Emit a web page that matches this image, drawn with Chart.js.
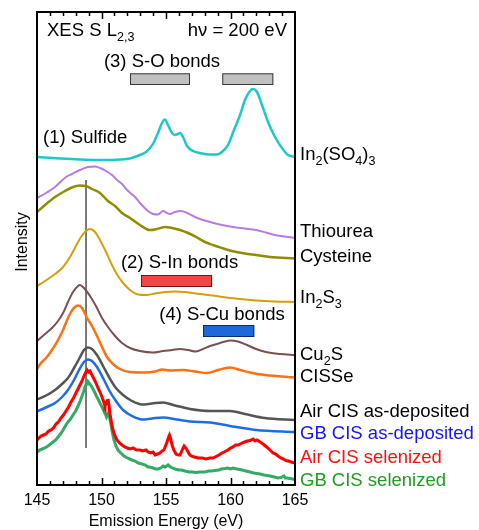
<!DOCTYPE html>
<html>
<head>
<meta charset="utf-8">
<script src="https://cdn.jsdelivr.net/npm/chart.js@4.4.1/dist/chart.umd.min.js"></script>
<style>
  html, body { margin: 0; padding: 0; background: #fff; }
</style>
</head>
<body>
<canvas id="xesChart" width="479" height="530"></canvas>
<script>
// S L2,3 emission spectra, stacked with offsets (energy in eV, intensity in arb. units)
const sulfateE = [145, 146.78, 148.33, 149.88, 151.43, 152.2, 152.98, 153.45, 153.76, 154.07, 154.38, 154.69, 154.92, 155.15, 155.47, 155.7, 156.09, 156.32, 156.63, 157.09, 157.64, 158.41, 158.95, 159.42, 159.81, 160.27, 160.74, 161.12, 161.51, 161.74, 162.05, 162.44, 162.91, 163.45, 163.99, 164.46, 165];
const sulfateI = [328, 326.5, 325.5, 325, 325.5, 326.5, 330, 333, 337, 343, 352, 362, 365.5, 360, 352, 350, 352, 348, 339, 334, 332, 330.5, 330.5, 334, 340, 355, 370, 385, 394, 396, 393, 380, 363, 348, 337, 330, 328];

const thioureaE = [145, 145.7, 146.4, 147.25, 147.71, 148.33, 148.95, 149.5, 149.88, 150.35, 150.81, 151.2, 151.59, 151.98, 152.6, 152.98, 153.6, 153.99, 154.38, 154.77, 155.08, 155.31, 155.7, 156.16, 156.63, 157.09, 157.64, 158.41, 159.34, 160.19, 161.12, 161.98, 162.75, 163.45, 165];
const thioureaI = [287, 292, 298, 308, 311, 315, 318, 318.5, 317, 314, 310, 305, 301, 295, 288, 282, 274, 271, 270.5, 274, 272, 271, 273, 274, 272, 269, 266, 263, 260, 258, 256.5, 255, 252.5, 250, 247];

const cysteineE = [145, 145.62, 146.4, 147.17, 147.79, 148.33, 148.8, 149.26, 149.88, 150.5, 151.05, 151.59, 152.21, 152.98, 153.76, 154.3, 154.92, 155.47, 156.09, 156.71, 157.33, 158.02, 158.64, 159.34, 159.96, 161.12, 161.98, 163.06, 165];
const cysteineI = [273, 280, 288, 294, 298, 299.5, 299, 296, 292, 284, 279, 272, 267, 260, 255, 256, 258, 257, 255, 252, 248, 243, 240, 237, 234.5, 231.5, 230, 228, 226.5];

const in2s3E = [145, 145.62, 146.4, 147.02, 147.56, 148.02, 148.41, 148.8, 149.11, 149.5, 149.88, 150.35, 150.81, 151.28, 151.74, 152.21, 152.83, 153.45, 154.15, 154.92, 155.7, 156.47, 157.64, 158.64, 159.96, 161.98, 163.45, 165];
const in2s3I = [199, 204, 211, 218, 228, 239, 248, 254, 256, 253, 245, 233, 220, 209, 201, 195, 190.5, 190, 191.5, 193, 193.5, 193, 191, 189.5, 187, 184.5, 183.5, 183];

const cu2sE = [145, 145.62, 146.16, 146.63, 147.02, 147.4, 147.79, 148.18, 148.33, 148.64, 149.11, 149.57, 150.04, 150.5, 151.05, 151.59, 152.21, 152.98, 153.99, 154.77, 155.47, 156.09, 156.71, 157.33, 157.87, 158.41, 159.19, 159.96, 160.58, 161.28, 161.98, 162.75, 163.84, 165];
const cu2sI = [144, 151, 157, 164, 172, 183, 193, 199, 200, 197, 189, 179, 167, 158, 149, 142, 137, 134, 132.5, 134, 135, 136, 135, 133.5, 136, 139, 142, 144.5, 143.5, 140, 136, 133, 131, 130];

const cisseE = [145, 145.31, 145.7, 146.16, 146.63, 147.02, 147.4, 147.79, 148.18, 148.49, 148.88, 149.26, 149.65, 150.04, 150.43, 150.89, 151.43, 152.21, 153.37, 154.15, 154.69, 155.31, 156.32, 157.25, 158.18, 159.03, 159.96, 160.74, 161.51, 162.67, 165];
const cisseI = [116, 122, 127, 135, 145, 155, 167, 176, 179.5, 177, 167, 159, 149, 138, 128, 121, 116, 113, 112.5, 113.5, 115.5, 114.5, 115, 113.5, 112, 115, 117.5, 115, 112.5, 110, 107.5];

const airDepE = [145, 145.78, 146.4, 146.94, 147.4, 147.87, 148.26, 148.64, 148.95, 149.26, 149.65, 150.12, 150.58, 151.12, 151.67, 152.36, 153.14, 153.91, 154.77, 155.7, 156.86, 158.41, 159.96, 161.12, 162.67, 165];
const airDepI = [85.5, 90, 95, 101, 107, 117, 126, 135, 137.5, 136, 130, 119, 108, 97, 90, 84, 80.5, 81.5, 82.5, 79.5, 76, 74, 74, 71, 67, 65];

const gbDepE = [145, 145.78, 146.4, 146.94, 147.4, 147.87, 148.26, 148.64, 148.95, 149.26, 149.65, 150.12, 150.58, 151.12, 151.67, 152.36, 153.14, 153.91, 154.77, 155.85, 156.86, 158.41, 159.96, 161.98, 165];
const gbDepI = [73.5, 78, 82, 88, 95, 105, 115, 123, 125.5, 124, 118, 107, 95, 84, 75, 69, 65.5, 66.5, 67.5, 65.5, 63.5, 62.5, 59, 55, 53];

const airSelE = [145, 145.15, 145.31, 145.5, 145.7, 145.9, 146.09, 146.28, 146.47, 146.66, 146.86, 147.05, 147.25, 147.45, 147.64, 147.83, 148.02, 148.18, 148.33, 148.49, 148.64, 148.76, 148.88, 149, 149.1, 149.26, 149.42, 149.57, 149.73, 149.88, 150.04, 150.12, 150.2, 150.27, 150.35, 150.43, 150.5, 150.58, 150.66, 150.78, 150.89, 151.05, 151.2, 151.4, 151.59, 151.8, 152, 152.21, 152.45, 152.7, 152.98, 153.2, 153.45, 153.6, 153.8, 154, 154.15, 154.35, 154.53, 154.7, 154.84, 154.96, 155.08, 155.2, 155.27, 155.35, 155.47, 155.6, 155.78, 155.95, 156.09, 156.25, 156.4, 156.52, 156.63, 156.8, 156.94, 157.2, 157.48, 157.8, 158.1, 158.4, 158.64, 158.8, 159.1, 159.34, 159.5, 159.8, 160, 160.19, 160.4, 160.6, 160.89, 161.1, 161.3, 161.51, 161.75, 161.9, 162.05, 162.3, 162.52, 162.8, 163.06, 163.3, 163.5, 163.68, 163.9, 164.1, 164.3, 164.5, 164.7, 165];
const airSelI = [45, 47, 49, 50, 51, 54, 55, 57, 61, 63, 67, 70, 74, 78, 83, 87, 92, 96, 100, 104, 109, 112, 115, 113, 114, 110, 106, 102, 97, 93, 88, 85, 82, 79, 81, 84, 86, 80, 71, 62, 55, 49, 45, 42, 40, 38, 37, 36, 37, 35, 35, 34, 35, 33, 32, 33, 30, 31, 32, 34, 35, 39, 43, 48, 50, 47, 40, 35, 31, 30, 30, 35, 39, 37, 35, 31, 29, 28, 27, 27, 26, 27, 27, 28, 30, 32, 33, 35, 37, 38, 40, 40, 42, 43, 44, 44.5, 46, 44, 45, 43, 41, 38, 35, 32, 31, 29, 27, 26, 24.5, 24, 23, 22];

const gbSelE = [145, 145.2, 145.39, 145.6, 145.85, 146.05, 146.24, 146.45, 146.63, 146.82, 147.02, 147.2, 147.4, 147.6, 147.79, 148, 148.18, 148.35, 148.49, 148.6, 148.72, 148.82, 148.88, 148.96, 149.03, 149.15, 149.26, 149.42, 149.57, 149.73, 149.88, 150.04, 150.19, 150.3, 150.39, 150.47, 150.54, 150.62, 150.74, 150.85, 150.97, 151.12, 151.28, 151.5, 151.74, 152, 152.36, 152.6, 152.85, 153.14, 153.4, 153.6, 153.76, 154, 154.2, 154.38, 154.6, 154.77, 154.95, 155.16, 155.35, 155.5, 155.7, 156, 156.2, 156.47, 156.8, 157.05, 157.33, 157.6, 158.02, 158.3, 158.55, 158.8, 159.1, 159.3, 159.57, 159.8, 160, 160.19, 160.5, 160.89, 161.2, 161.51, 161.8, 162.05, 162.29, 162.6, 162.85, 163.06, 163.4, 163.68, 163.9, 164.15, 164.25, 164.38, 164.6, 164.8, 165];
const gbSelI = [33, 35, 36, 37, 39, 41, 43, 45, 48, 51, 55, 59, 63, 66, 70, 74, 79, 84, 89, 93, 98, 101, 103, 101, 102, 100, 98, 94, 90, 86, 82, 78, 74, 71, 68, 70, 72, 68, 60, 52, 45, 39, 35, 32, 29, 27, 25, 24, 22, 21, 20, 18, 18, 17, 16, 16, 17, 19, 18, 20, 18, 17, 16, 15, 15, 14, 13, 13, 12.5, 13, 13, 14, 14, 14.5, 15, 16, 16.5, 17, 16, 17, 16, 15, 14, 13, 12, 11.5, 11, 10, 9.5, 9, 8, 7, 7.5, 9, 7, 7, 6.5, 6, 5.5];

// reference line through the main sulfide peak
const refE = [148.8, 148.8];
const refI = [37, 305];

// bond regions: energy range and intensity band of each bar
const soRanges = [[152.21, 156.86], [159.36, 163.32]];
const soBand = [400, 411.7];
const inRange = [153.06, 158.57];
const inBand = [198, 210];
const cuRange = [157.87, 161.84];
const cuBand = [148, 160];

const FONT = '"Liberation Sans", Arial, sans-serif';

const series = [
  { label: 'In_2(SO_4)_3', e: sulfateE, i: sulfateI, color: '#1ec8c8', width: 2.5, text: '#000', at: 330 },
  { label: 'Thiourea', e: thioureaE, i: thioureaI, color: '#b57de0', width: 2, text: '#000', at: 253 },
  { label: 'Cysteine', e: cysteineE, i: cysteineI, color: '#8e8e00', width: 2.5, text: '#000', at: 228 },
  { label: 'In_2S_3', e: in2s3E, i: in2s3I, color: '#d4a00a', width: 2, text: '#000', at: 187 },
  { label: 'Cu_2S', e: cu2sE, i: cu2sI, color: '#7a5050', width: 2, text: '#000', at: 130 },
  { label: 'CISSe', e: cisseE, i: cisseI, color: '#ff7010', width: 2.5, text: '#000', at: 108 },
  { label: 'Air CIS as-deposited', e: airDepE, i: airDepI, color: '#555555', width: 2.5, text: '#000', at: 73 },
  { label: 'GB CIS as-deposited', e: gbDepE, i: gbDepI, color: '#1e6ee1', width: 2.5, text: '#1414ff', at: 51 },
  { label: 'Air CIS selenized', e: airSelE, i: airSelI, color: '#ff0000', width: 3, text: '#ff1010', noisy: true, at: 27 },
  { label: 'GB CIS selenized', e: gbSelE, i: gbSelI, color: '#33aa66', width: 3, text: '#1e9e1e', noisy: true, at: 4 }
];

const datasets = series.map(s => ({
  label: s.label,
  data: s.e.map((x, k) => ({ x: x, y: s.i[k] })),
  borderColor: s.color,
  borderWidth: s.width,
  pointRadius: 0,
  fill: false,
  cubicInterpolationMode: s.noisy ? 'default' : 'monotone',
  tension: s.noisy ? 0 : 0.4
}));

datasets.push({
  label: 'ref',
  data: refE.map((x, k) => ({ x: x, y: refI[k] })),
  borderColor: '#222222',
  borderWidth: 1.2,
  pointRadius: 0
});

// split "In_2(SO_4)_3" or "L_{2,3}" into normal / subscript pieces
function parseSub(str) {
  const parts = [];
  const re = /_\{([^}]*)\}|_(.)/g;
  let last = 0, m;
  while ((m = re.exec(str)) !== null) {
    if (m.index > last) parts.push([str.slice(last, m.index), false]);
    parts.push([m[1] !== undefined ? m[1] : m[2], true]);
    last = re.lastIndex;
  }
  if (last < str.length) parts.push([str.slice(last), false]);
  return parts;
}

function richText(ctx, str, x, y, size, color, align) {
  const parts = parseSub(str);
  const subSize = size * 0.68;
  ctx.save();
  ctx.fillStyle = color;
  ctx.textBaseline = 'middle';
  ctx.textAlign = 'left';
  let w = 0;
  parts.forEach(([t, sub]) => {
    ctx.font = (sub ? subSize : size) + 'px ' + FONT;
    w += ctx.measureText(t).width;
  });
  let cx = align === 'right' ? x - w : align === 'center' ? x - w / 2 : x;
  parts.forEach(([t, sub]) => {
    ctx.font = (sub ? subSize : size) + 'px ' + FONT;
    ctx.fillText(t, cx, sub ? y + size * 0.33 : y);
    cx += ctx.measureText(t).width;
  });
  ctx.restore();
}

function band(chart, range, yr, fillC, lineC) {
  const { ctx, scales: { x, y } } = chart;
  const x0 = x.getPixelForValue(range[0]), x1 = x.getPixelForValue(range[1]);
  const y0 = y.getPixelForValue(yr[1]), y1 = y.getPixelForValue(yr[0]);
  ctx.save();
  ctx.fillStyle = fillC;
  ctx.strokeStyle = lineC;
  ctx.lineWidth = 1;
  ctx.fillRect(x0, y0, x1 - x0, y1 - y0);
  ctx.strokeRect(x0 + 0.5, y0 + 0.5, x1 - x0 - 1, y1 - y0 - 1);
  ctx.restore();
}

const overlay = {
  id: 'overlay',
  afterDatasetsDraw(chart) {
    soRanges.forEach(r => band(chart, r, soBand, '#c0c0c0', '#3a3a3a'));
    band(chart, inRange, inBand, '#f04646', '#7a1414');
    band(chart, cuRange, cuBand, '#1a6ad8', '#0b2e66');
  },
  afterDraw(chart) {
    const { ctx, chartArea: a, scales: { x, y } } = chart;

    // frame
    ctx.save();
    ctx.strokeStyle = '#000';
    ctx.lineWidth = 2;
    ctx.strokeRect(a.left, a.top, a.right - a.left, a.bottom - a.top);

    // inward ticks on bottom and top
    ctx.lineWidth = 1.5;
    for (let v = 146; v < 165; v++) {
      const px = Math.round(x.getPixelForValue(v)) + 0.5;
      const len = v % 5 === 0 ? 7 : 4;
      ctx.beginPath();
      ctx.moveTo(px, a.bottom);
      ctx.lineTo(px, a.bottom - len);
      ctx.moveTo(px, a.top);
      ctx.lineTo(px, a.top + len);
      ctx.stroke();
    }
    ctx.restore();

    // header
    richText(ctx, 'XES S L_{2,3}', a.left + 10, a.top + 19, 18.5, '#000', 'left');
    richText(ctx, 'h\u03bd = 200 eV', a.right - 8, a.top + 19, 18.5, '#000', 'right');

    // region notes
    richText(ctx, '(1) Sulfide', x.getPixelForValue(145.47), y.getPixelForValue(347), 18.5, '#000', 'left');
    richText(ctx, '(3) S-O bonds', x.getPixelForValue(154.69), y.getPixelForValue(423), 18.5, '#000', 'center');
    richText(ctx, '(2) S-In bonds', x.getPixelForValue(156.05), y.getPixelForValue(222), 18.5, '#000', 'center');
    richText(ctx, '(4) S-Cu bonds', x.getPixelForValue(159.34), y.getPixelForValue(170), 18.5, '#000', 'center');

    // sample names beside the right axis
    series.forEach(s => {
      richText(ctx, s.label, a.right + 5, y.getPixelForValue(s.at), 18.5, s.text, 'left');
    });

    // axis titles
    ctx.save();
    ctx.fillStyle = '#000';
    ctx.font = '16px ' + FONT;
    ctx.textAlign = 'center';
    ctx.textBaseline = 'middle';
    ctx.fillText('Emission Energy (eV)', (a.left + a.right) / 2, 522);
    ctx.translate(23, 242);
    ctx.rotate(-Math.PI / 2);
    ctx.fillText('Intensity', 0, 0);
    ctx.restore();
  }
};

const ctx = document.getElementById('xesChart').getContext('2d');
const xesChart = new Chart(ctx, {
  type: 'line',
  data: { datasets: datasets },
  options: {
    responsive: false,
    animation: false,
    layout: { padding: { left: 37, right: 184, top: 12, bottom: 20 } },
    plugins: { legend: { display: false }, tooltip: { enabled: false } },
    scales: {
      x: {
        type: 'linear',
        min: 145,
        max: 165,
        grid: { display: false, drawTicks: false },
        border: { display: false },
        ticks: {
          stepSize: 5,
          padding: 6,
          color: '#000',
          font: { family: FONT, size: 16 }
        },
        afterFit(scale) { scale.height = 25; }
      },
      y: {
        display: false,
        min: 0,
        max: 473
      }
    }
  },
  plugins: [overlay]
});
</script>
</body>
</html>
